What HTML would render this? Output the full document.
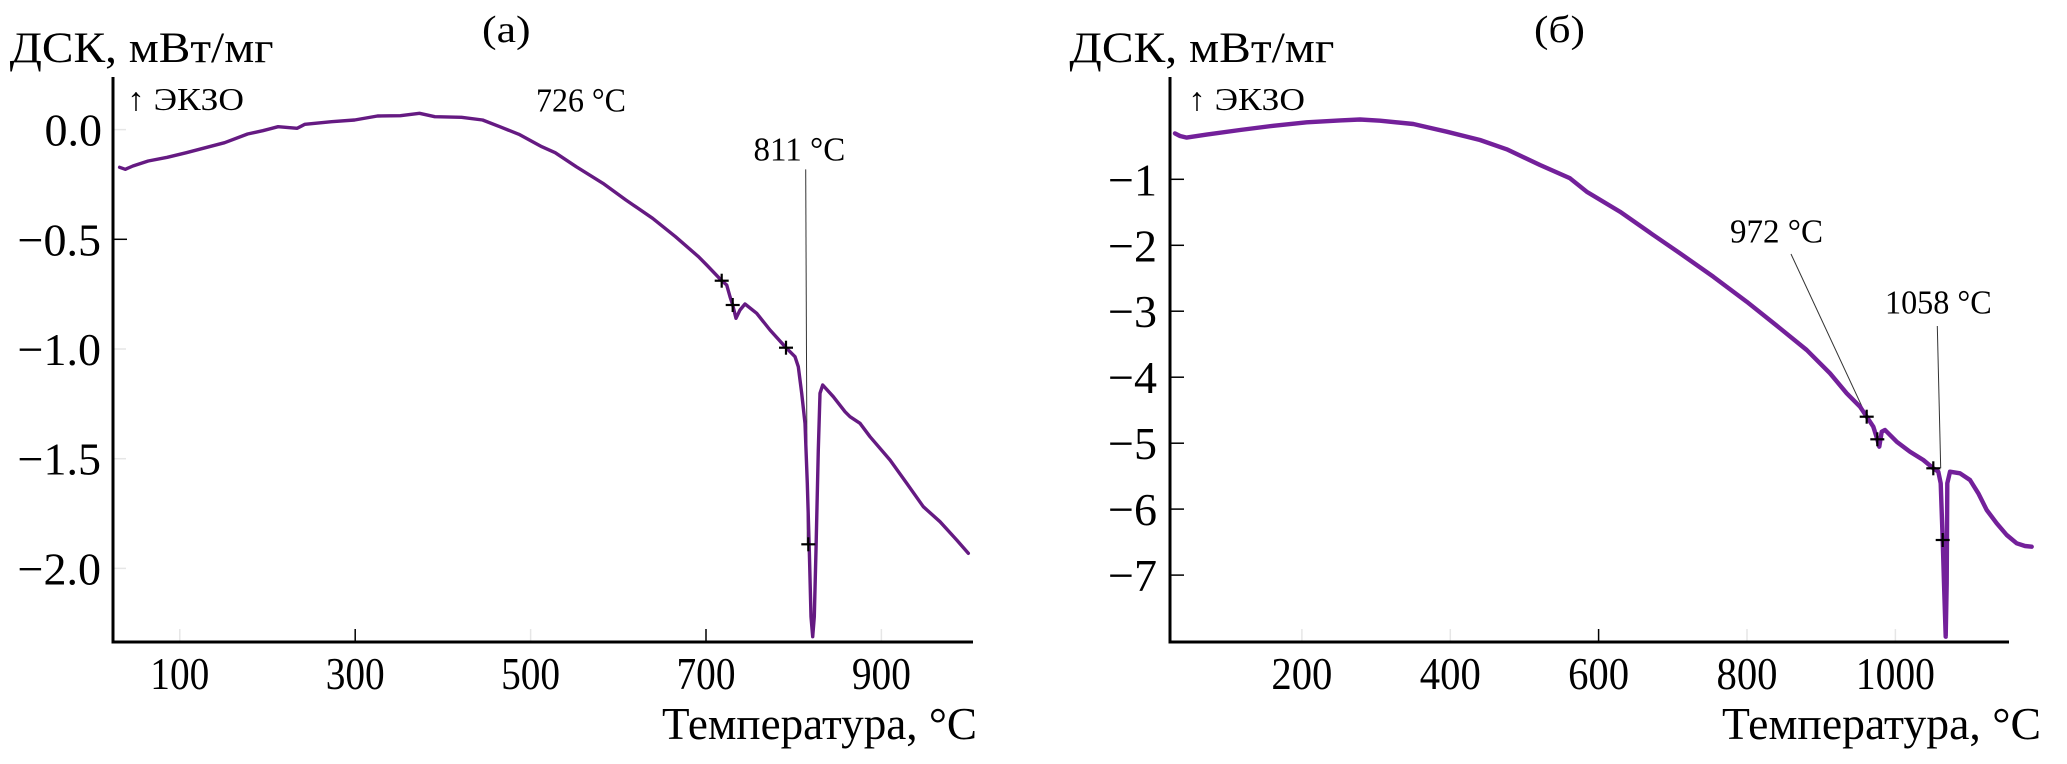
<!DOCTYPE html>
<html>
<head>
<meta charset="utf-8">
<style>
  html,body{margin:0;padding:0;background:#fff;}
  svg{display:block;}
  text{font-family:"Liberation Serif","DejaVu Serif",serif;fill:#000;}
</style>
</head>
<body>
<svg width="2067" height="764" viewBox="0 0 2067 764" xmlns="http://www.w3.org/2000/svg">
  <rect width="2067" height="764" fill="#fff"/>

  <!-- ============ LEFT CHART (a) ============ -->
  <text x="482" y="42" font-size="38" textLength="48.6" lengthAdjust="spacingAndGlyphs">(a)</text>
  <text x="9.6" y="62" font-size="43" textLength="264" lengthAdjust="spacingAndGlyphs">ДСК, мВт/мг</text>
  <text x="127" y="110" font-size="32" textLength="117" lengthAdjust="spacingAndGlyphs">↑ ЭКЗО</text>

  <g stroke="#e6e6e6" stroke-width="1.5">
    <line x1="113" y1="129.6" x2="126" y2="129.6"/>
    <line x1="113" y1="349" x2="126" y2="349"/>
    <line x1="113" y1="458.7" x2="126" y2="458.7"/>
    <line x1="113" y1="568.4" x2="126" y2="568.4"/>
    <line x1="179.8" y1="642" x2="179.8" y2="629"/>
    <line x1="530.6" y1="642" x2="530.6" y2="629"/>
    <line x1="881.4" y1="642" x2="881.4" y2="629"/>
  </g>
  <g stroke="#000" stroke-width="1.5">
    <line x1="113" y1="239.3" x2="127" y2="239.3"/>
    <line x1="355.2" y1="642" x2="355.2" y2="629"/>
    <line x1="706" y1="642" x2="706" y2="629"/>
  </g>

  <g stroke="#000" stroke-width="3" fill="none">
    <line x1="113" y1="77" x2="113" y2="643.5"/>
    <line x1="111.5" y1="642" x2="973" y2="642"/>
  </g>

  <g font-size="46" text-anchor="end">
    <text x="102" y="145.6">0.0</text>
    <text x="101" y="255.3">−0.5</text>
    <text x="101" y="365">−1.0</text>
    <text x="101" y="474.7">−1.5</text>
    <text x="101" y="584.4">−2.0</text>
  </g>
  <g font-size="46" text-anchor="middle">
    <text x="179.8" y="689" textLength="59" lengthAdjust="spacingAndGlyphs">100</text>
    <text x="355.2" y="689" textLength="59" lengthAdjust="spacingAndGlyphs">300</text>
    <text x="530.6" y="689" textLength="59" lengthAdjust="spacingAndGlyphs">500</text>
    <text x="706" y="689" textLength="59" lengthAdjust="spacingAndGlyphs">700</text>
    <text x="881.4" y="689" textLength="59" lengthAdjust="spacingAndGlyphs">900</text>
  </g>
  <text x="662" y="739" font-size="46" textLength="315" lengthAdjust="spacingAndGlyphs">Температура, °C</text>

  <text x="536" y="111.7" font-size="34" textLength="90" lengthAdjust="spacingAndGlyphs">726 °C</text>
  <text x="753.5" y="160.7" font-size="34" textLength="91.7" lengthAdjust="spacingAndGlyphs">811 °C</text>
  <line x1="805.7" y1="169.4" x2="807.3" y2="544" stroke="#333" stroke-width="1"/>

  <polyline fill="none" stroke="#651a82" stroke-width="3.4" stroke-linejoin="round" stroke-linecap="round"
    points="119.6,167.3 125.3,169.3 132.9,166 148.2,161 167.3,157.3 186.4,152.7 205.5,147.7 224.6,142.7 247.6,134 262.8,130.7 278.1,126.7 297.2,128.3 304.9,124.3 331.6,121.7 354.6,120 377.5,116 400.4,115.7 419.5,113.3 434.8,116.7 461.5,117.3 482.6,120 499.8,126.7 518.9,134.3 541.8,146.7 555.2,152.7 576.2,166.7 602.9,183.3 625.9,200 652.6,218.3 675.5,236.7 698.5,256.7 706.7,265 721.7,280.7 726.7,285 730,296.7 732.7,305 736,318.3 740,310 745,304 756.7,313.3 770,330 786,347.7 795,356.7 798.3,366.7 801.7,393.3 805,423.3 807.3,483.3 809.3,550 811,616.7 812.7,636.7 814.3,616.7 816,550 818.3,450 820,393.3 822.7,385 833.3,396.7 845,411.7 850,416.7 860,423.3 870,436.7 890,460 906.7,483.3 923.3,506.7 940,521.7 956.7,540 968.3,553.3"/>

  <g stroke="#000" stroke-width="2.2">
    <line x1="714.7" y1="280.7" x2="728.7" y2="280.7"/><line x1="721.7" y1="273.7" x2="721.7" y2="287.7"/>
    <line x1="725.7" y1="305" x2="739.7" y2="305"/><line x1="732.7" y1="298" x2="732.7" y2="312"/>
    <line x1="779" y1="347.7" x2="793" y2="347.7"/><line x1="786" y1="340.7" x2="786" y2="354.7"/>
    <line x1="801.3" y1="544.3" x2="815.3" y2="544.3"/><line x1="808.3" y1="537.3" x2="808.3" y2="551.3"/>
  </g>

  <!-- ============ RIGHT CHART (б) ============ -->
  <text x="1534" y="42" font-size="38" textLength="51" lengthAdjust="spacingAndGlyphs">(б)</text>
  <text x="1069.4" y="62" font-size="43" textLength="265" lengthAdjust="spacingAndGlyphs">ДСК, мВт/мг</text>
  <text x="1188" y="110" font-size="32" textLength="117" lengthAdjust="spacingAndGlyphs">↑ ЭКЗО</text>

  <g stroke="#e6e6e6" stroke-width="1.5">
    <line x1="1301.9" y1="642" x2="1301.9" y2="629"/>
    <line x1="1450.3" y1="642" x2="1450.3" y2="629"/>
    <line x1="1747" y1="642" x2="1747" y2="629"/>
    <line x1="1895.4" y1="642" x2="1895.4" y2="629"/>
  </g>
  <g stroke="#000" stroke-width="1.5">
    <line x1="1598.6" y1="642" x2="1598.6" y2="629"/>
    <line x1="1170" y1="179.3" x2="1184" y2="179.3"/>
    <line x1="1170" y1="245.3" x2="1184" y2="245.3"/>
    <line x1="1170" y1="311.2" x2="1184" y2="311.2"/>
    <line x1="1170" y1="377.2" x2="1184" y2="377.2"/>
    <line x1="1170" y1="443.2" x2="1184" y2="443.2"/>
    <line x1="1170" y1="509.1" x2="1184" y2="509.1"/>
    <line x1="1170" y1="575.1" x2="1184" y2="575.1"/>
  </g>

  <g stroke="#000" stroke-width="3" fill="none">
    <line x1="1170" y1="77" x2="1170" y2="643.5"/>
    <line x1="1168.5" y1="642" x2="2009" y2="642"/>
  </g>

  <g font-size="46" text-anchor="end">
    <text x="1157" y="195.3">−1</text>
    <text x="1157" y="261.3">−2</text>
    <text x="1157" y="327.2">−3</text>
    <text x="1157" y="393.2">−4</text>
    <text x="1157" y="459.2">−5</text>
    <text x="1157" y="525.1">−6</text>
    <text x="1157" y="591.1">−7</text>
  </g>
  <g font-size="46" text-anchor="middle">
    <text x="1301.9" y="689" textLength="61" lengthAdjust="spacingAndGlyphs">200</text>
    <text x="1450.3" y="689" textLength="61" lengthAdjust="spacingAndGlyphs">400</text>
    <text x="1598.6" y="689" textLength="61" lengthAdjust="spacingAndGlyphs">600</text>
    <text x="1747" y="689" textLength="61" lengthAdjust="spacingAndGlyphs">800</text>
    <text x="1895.4" y="689" textLength="79" lengthAdjust="spacingAndGlyphs">1000</text>
  </g>
  <text x="1722" y="739" font-size="46" textLength="319" lengthAdjust="spacingAndGlyphs">Температура, °C</text>

  <text x="1730" y="242.7" font-size="34" textLength="93" lengthAdjust="spacingAndGlyphs">972 °C</text>
  <text x="1885" y="313.3" font-size="34" textLength="106.7" lengthAdjust="spacingAndGlyphs">1058 °C</text>
  <line x1="1791" y1="254" x2="1866.7" y2="416.7" stroke="#333" stroke-width="1"/>
  <line x1="1937.3" y1="326" x2="1940.7" y2="468.3" stroke="#333" stroke-width="1"/>

  <polyline fill="none" stroke="#73209a" stroke-width="4.4" stroke-linejoin="round" stroke-linecap="round"
    points="1175,133.4 1180,136 1186.7,137.6 1206.7,134.6 1240,130 1273.3,125.8 1306.7,122.3 1340,120.4 1360,119.5 1380,120.7 1413.3,124 1446.7,131.7 1480,140 1506.7,149.3 1540,165 1570,178.3 1586.7,191.7 1620,211.7 1653.3,235 1680,253.3 1713.3,276.7 1746.7,301.7 1780,328.3 1806.7,350 1830,373.3 1846.7,393.3 1860,406.7 1866.7,416.7 1873.3,426.7 1877.3,439.3 1879.3,446.7 1881.7,431.7 1885,430 1896.7,441.7 1910,451.7 1923.3,460 1933.3,468.3 1938.3,471.7 1940.7,483.3 1942.7,540 1944,583.3 1945.7,636.7 1946.7,583.3 1947.3,483.3 1950,471.7 1960,473.3 1970,480 1978.3,493.3 1986.7,510 1996.7,523.3 2006.7,535 2016.7,543.3 2025,546 2031.7,546.7"/>

  <g stroke="#000" stroke-width="2.2">
    <line x1="1859.7" y1="416.7" x2="1873.7" y2="416.7"/><line x1="1866.7" y1="409.7" x2="1866.7" y2="423.7"/>
    <line x1="1870.3" y1="439.3" x2="1884.3" y2="439.3"/><line x1="1877.3" y1="432.3" x2="1877.3" y2="446.3"/>
    <line x1="1926.3" y1="468.3" x2="1940.3" y2="468.3"/><line x1="1933.3" y1="461.3" x2="1933.3" y2="475.3"/>
    <line x1="1935.7" y1="540" x2="1949.7" y2="540"/><line x1="1942.7" y1="533" x2="1942.7" y2="547"/>
  </g>
</svg>
</body>
</html>
